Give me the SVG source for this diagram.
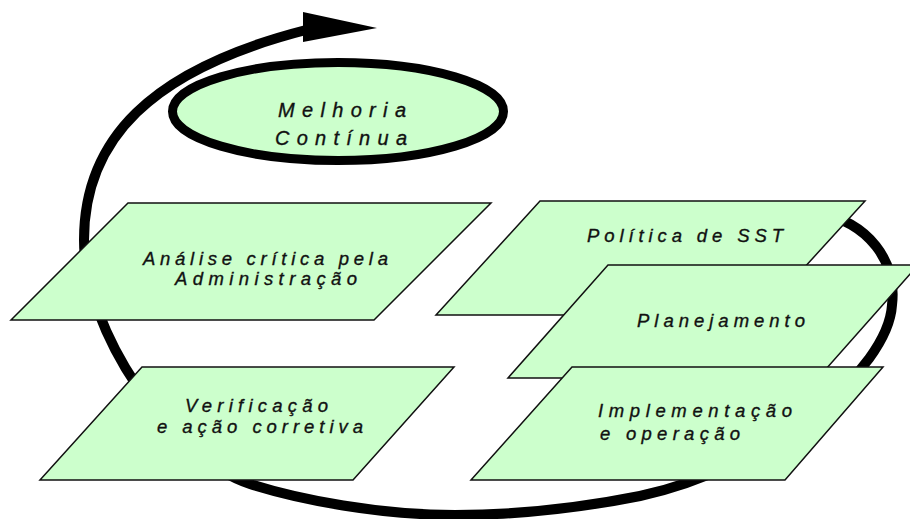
<svg xmlns="http://www.w3.org/2000/svg" width="910" height="519" viewBox="0 0 910 519">
  <style>
    .step { fill: #CCFFCC; stroke: #111; stroke-width: 1.5; stroke-linejoin: miter; }
    .label { font-family: "Liberation Sans", Arial, sans-serif; font-style: italic; font-size: 18.5px; fill: #111; stroke: #111; stroke-width: 0.35; }
    .big { font-size: 20px; }
    .loop { fill: none; stroke: #000; stroke-width: 10; stroke-linecap: butt; }
  </style>

  <!-- continuous-improvement loop with arrowhead -->
  <g id="connectors">
    <path class="loop" d="M 815,212 C 870,222 897,262 892,305 C 888,370 770,468 640,496 C 560,512 500,515 455,515 C 380,515 300,500 250,484 C 170,458 84,330 84,240 C 84,140 150,70 306,30"/>
    <polygon points="303,12 377,28 303,42" fill="#000"/>
  </g>

  <g id="melhoria">
    <ellipse cx="338" cy="111.5" rx="165.5" ry="49" fill="#CCFFCC" stroke="#000" stroke-width="9"/>
    <text class="label big" x="278" y="117" textLength="128" lengthAdjust="spacing">Melhoria</text>
    <text class="label big" x="275" y="145" textLength="132" lengthAdjust="spacing">Contínua</text>
  </g>

  <g id="analise">
    <polygon class="step" points="128,203 491,203 374,320 11,320"/>
    <text class="label" x="143" y="265" textLength="245" lengthAdjust="spacing">Análise crítica pela</text>
    <text class="label" x="175" y="285" textLength="182" lengthAdjust="spacing">Administração</text>
  </g>

  <g id="verificacao">
    <polygon class="step" points="142,367 454,367 353,480 40,480"/>
    <text class="label" x="185" y="412" textLength="143" lengthAdjust="spacing">Verificação</text>
    <text class="label" x="157" y="433" textLength="206" lengthAdjust="spacing">e ação corretiva</text>
  </g>

  <g id="politica">
    <polygon class="step" points="540,201 865,201 761,315 436,315"/>
    <text class="label" x="587" y="242" textLength="196" lengthAdjust="spacing">Política de SST</text>
  </g>

  <g id="planejamento">
    <polygon class="step" points="608,265 918,265 818,378 508,378"/>
    <text class="label" x="637" y="327" textLength="168" lengthAdjust="spacing">Planejamento</text>
  </g>

  <g id="implementacao">
    <polygon class="step" points="572,367 883,367 785,480 471,480"/>
    <text class="label" x="598" y="417" textLength="194" lengthAdjust="spacing">Implementação</text>
    <text class="label" x="600" y="440" textLength="140" lengthAdjust="spacing">e operação</text>
  </g>
</svg>
